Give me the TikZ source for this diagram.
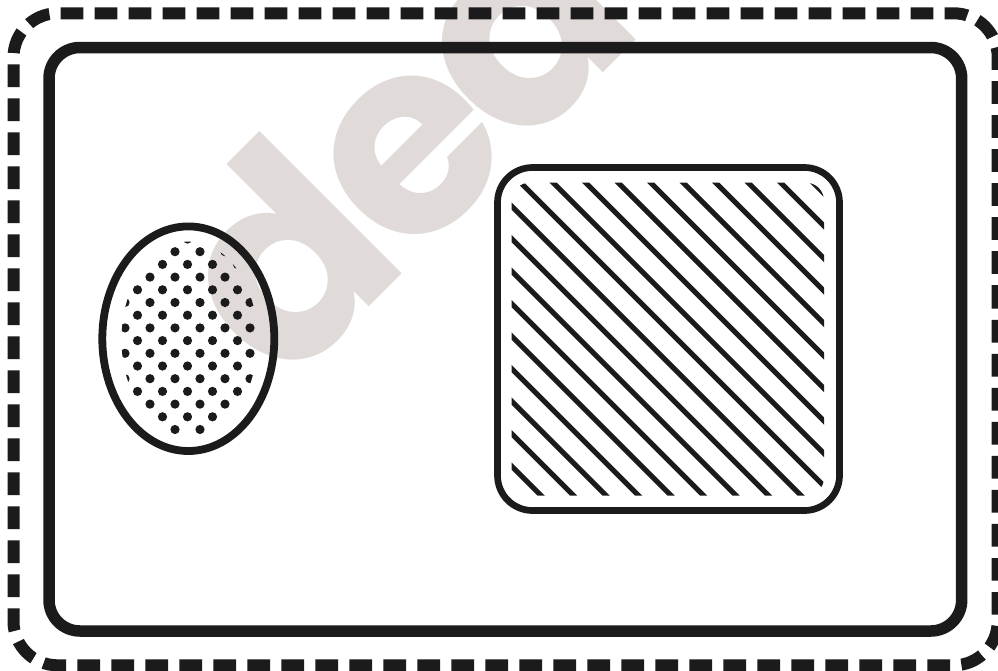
\documentclass[tikz,border=0pt]{standalone}
\usepackage{fontspec}
\newfontfamily\wmfont{Poppins}
\definecolor{ink}{HTML}{1A1B1A}
\definecolor{wmgray}{HTML}{E0DAD9}
\begin{document}
\begin{tikzpicture}[x=1pt,y=-1pt,
  inkline/.style={draw=ink},
  dotfill/.style={fill=ink},
  hatchline/.style={draw=ink,line width=5pt},
  wmletter/.style={rotate=45,anchor=base,inner sep=0pt,text=wmgray,
      font=\wmfont\bfseries\fontsize{272}{272}\selectfont}]
\useasboundingbox (0,0) rectangle (998,670);
\fill[white] (0,0) rectangle (998,670);
\begin{scope}
\clip (0,0) rectangle (998,670);
% watermark letters along a 45 degree baseline
\node[wmletter] (wmd) at (349.1,326.9) {d};
\node[wmletter] (wme) at (466.7,209.3) {e};
\node[wmletter] (wma) at (582.7,93.3) {a};
% outer dashed border (starts on the clipped right edge)
\draw[inkline,line width=12pt,rounded corners=44pt,
      dash pattern=on 22.7pt off 11.3pt,dash phase=11.9pt]
  (997.7,340) -- (997.7,13.3) -- (13.5,13.3) -- (13.5,665.3) -- (997.7,665.3) -- cycle;
% inner solid frame
\draw[inkline,line width=11.5pt,rounded corners=31pt] (49,47.5) rectangle (961.7,631);
% ellipse with dots
\begin{scope}
  \clip (189.5,339.5) ellipse [x radius=68, y radius=98];
  \foreach \j in {-2,0,...,16}
    \foreach \x in {100,125,...,275}
      \fill[dotfill] (\x,{251.7+12.7*\j}) circle (4.6pt);
  \foreach \j in {-1,1,...,15}
    \foreach \x in {87.5,112.5,...,287.5}
      \fill[dotfill] (\x,{251.7+12.7*\j}) circle (4.6pt);
\end{scope}
\draw[inkline,line width=7.8pt] (188.3,338.7) ellipse [x radius=86, y radius=112.3];
% hatched rounded square
\begin{scope}
  \clip[rounded corners=18pt] (511.7,182.7) rectangle (824,495.7);
  \foreach \m in {-11,...,9}
    \draw[hatchline] (500,{500-305.5+32.5*\m}) -- (840,{840-305.5+32.5*\m});
\end{scope}
\draw[inkline,line width=6.7pt,rounded corners=35pt] (497.5,167.5) rectangle (839.5,510.5);
\end{scope}
\end{tikzpicture}
\end{document}
